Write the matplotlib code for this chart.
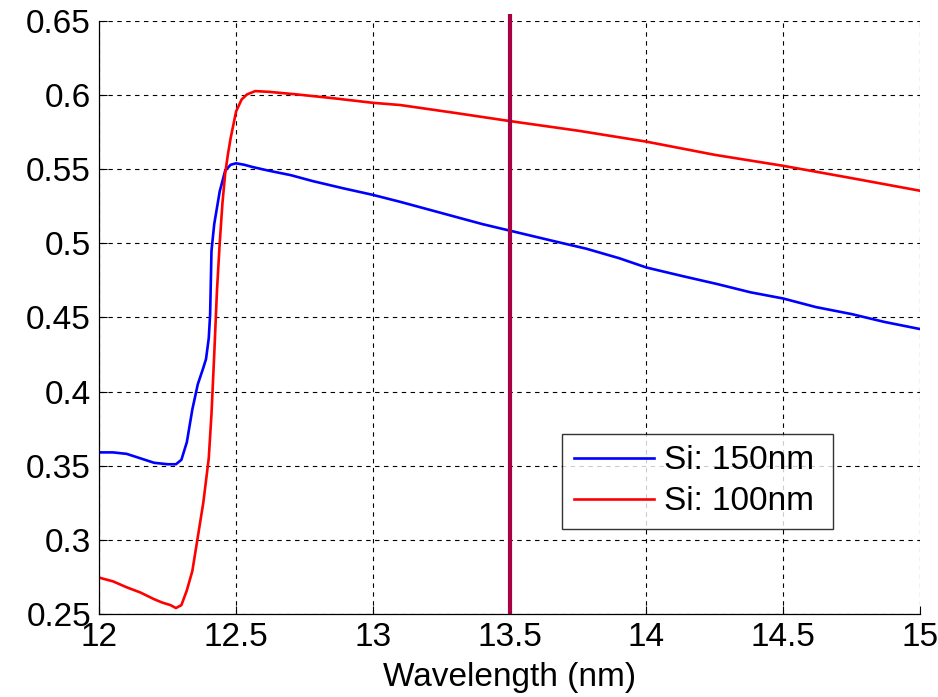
import matplotlib
matplotlib.use("Agg")
import matplotlib.pyplot as plt

plt.rcParams['font.family'] = ['Liberation Sans', 'DejaVu Sans']

# Reflectance curves versus wavelength for two Si layer thicknesses
wl_150 = [12.00, 12.05, 12.10, 12.15, 12.20, 12.25, 12.28, 12.30, 12.32, 12.34,
          12.36, 12.38, 12.39, 12.40, 12.405, 12.41, 12.42, 12.44, 12.46, 12.48,
          12.50, 12.53, 12.56, 12.62, 12.70, 12.78, 12.89, 13.00, 13.10, 13.20,
          13.30, 13.40, 13.50, 13.65, 13.78, 13.90, 14.00, 14.13, 14.26, 14.38,
          14.50, 14.62, 14.75, 14.87, 15.00]
r_150 = [0.359, 0.359, 0.358, 0.355, 0.352, 0.351, 0.351, 0.354, 0.366, 0.388,
         0.405, 0.416, 0.422, 0.436, 0.452, 0.495, 0.513, 0.535, 0.549, 0.553,
         0.554, 0.553, 0.5515, 0.549, 0.546, 0.542, 0.5372, 0.5327, 0.528, 0.523,
         0.518, 0.513, 0.5086, 0.502, 0.4964, 0.490, 0.4837, 0.478, 0.4725, 0.467,
         0.4628, 0.457, 0.4523, 0.447, 0.4422]

wl_100 = [12.00, 12.05, 12.10, 12.15, 12.20, 12.23, 12.26, 12.28, 12.30, 12.32,
          12.34, 12.36, 12.38, 12.39, 12.40, 12.41, 12.42, 12.43, 12.44, 12.45,
          12.46, 12.47, 12.48, 12.50, 12.52, 12.54, 12.57, 12.62, 12.72, 12.85,
          13.00, 13.10, 13.30, 13.50, 13.75, 14.00, 14.25, 14.50, 14.75, 15.00]
r_100 = [0.2745, 0.272, 0.268, 0.2645, 0.260, 0.2577, 0.256, 0.254, 0.256, 0.266,
         0.279, 0.302, 0.325, 0.340, 0.355, 0.385, 0.425, 0.468, 0.500, 0.527,
         0.547, 0.560, 0.571, 0.589, 0.597, 0.6005, 0.6027, 0.6022, 0.6005, 0.598,
         0.5948, 0.5933, 0.588, 0.5825, 0.576, 0.5686, 0.5597, 0.5523, 0.544, 0.5355]

marker_wl = 13.5
x_ticks = [12, 12.5, 13, 13.5, 14, 14.5, 15]
x_tick_labels = ['12', '12.5', '13', '13.5', '14', '14.5', '15']
y_ticks = [0.25, 0.3, 0.35, 0.4, 0.45, 0.5, 0.55, 0.6, 0.65]
y_tick_labels = ['0.25', '0.3', '0.35', '0.4', '0.45', '0.5', '0.55', '0.6', '0.65']

fig = plt.figure(figsize=(9.38, 6.97), dpi=100)
ax = fig.add_axes([0.1059, 0.1191, 0.9808 - 0.1059, 0.9699 - 0.1191])

ax.plot(wl_150, r_150, color='#0000FF', lw=1.9, label='Si: 150nm')
ax.plot(wl_100, r_100, color='#FF0000', lw=1.9, label='Si: 100nm')
ax.plot([marker_wl, marker_wl], [0.25, 0.6545], color='#AA0044', lw=3.0,
        clip_on=False, solid_capstyle='butt')

ax.set_xlim(12, 15)
ax.set_ylim(0.25, 0.65)
ax.set_xticks(x_ticks)
ax.set_xticklabels(x_tick_labels)
ax.set_yticks(y_ticks)
ax.set_yticklabels(y_tick_labels)

ax.grid(True, color='black', linestyle=(0, (4, 4)), linewidth=0.8)
ax.tick_params(direction='in', length=6, width=0.8, labelsize=24, pad=6)
ax.spines['top'].set_visible(False)
ax.spines['right'].set_visible(False)
for s in ('left', 'bottom'):
    ax.spines[s].set_linewidth(0.9)

ax.set_xlabel('Wavelength (nm)', fontsize=24, labelpad=6)

leg = ax.legend(loc='lower left', bbox_to_anchor=(0.5636, 0.1433, 0.330, 0.16),
                mode='expand', fontsize=24, frameon=True, fancybox=False,
                handlelength=2.4, handletextpad=0.3, borderpad=0.35,
                labelspacing=0.3, borderaxespad=0)
leg.get_frame().set_edgecolor('black')
leg.get_frame().set_linewidth(1.0)

fig.savefig('out.png', dpi=100, facecolor='white')
